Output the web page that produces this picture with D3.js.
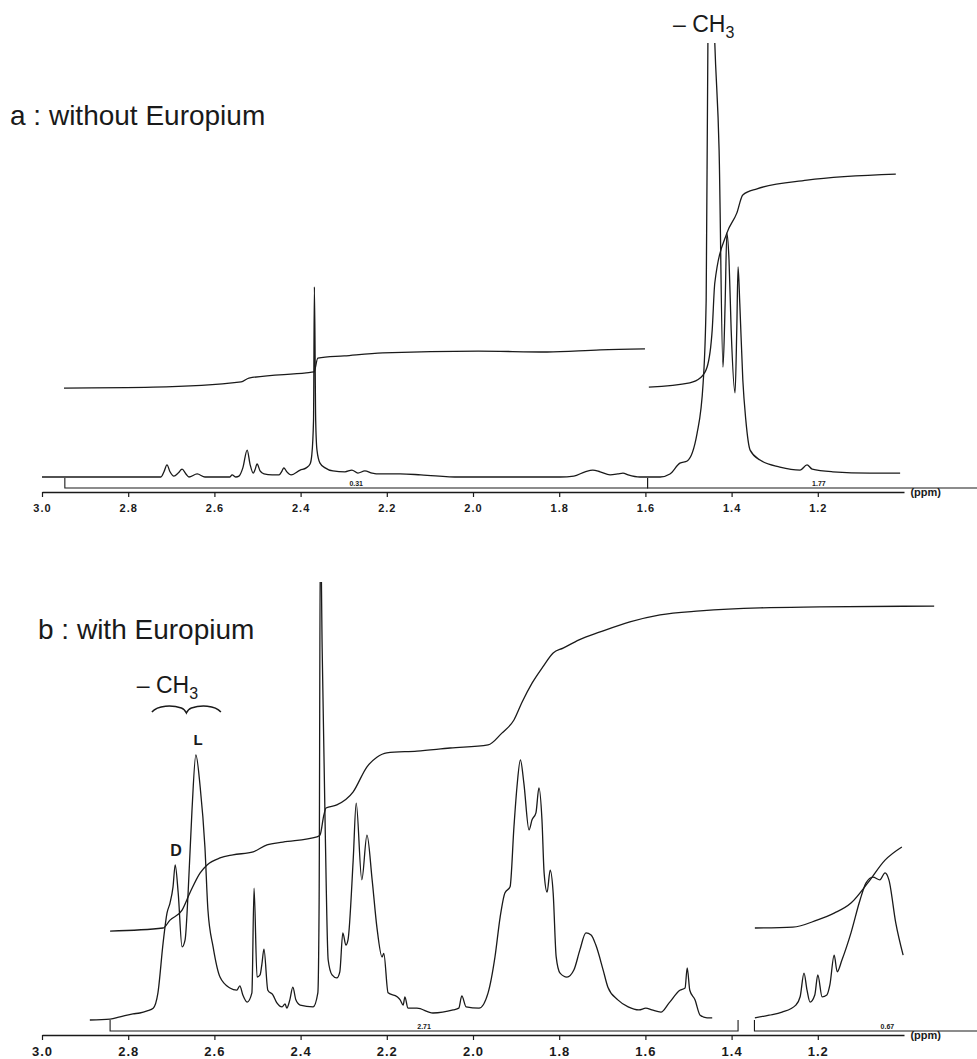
<!DOCTYPE html>
<html>
<head>
<meta charset="utf-8">
<script src="https://cdn.jsdelivr.net/npm/d3@7"></script>
<style>
  body { margin: 0; background: #fff; }
  text { font-family: "Liberation Sans", Arial, sans-serif; fill: #1a1a1a; }
</style>
</head>
<body>
<div id="chart"></div>
<script>
const width = 977;
const height = 1059;

// ppm axis ticks
const ppmTicks = [3.0, 2.8, 2.6, 2.4, 2.2, 2.0, 1.8, 1.6, 1.4, 1.2];

// a : without Europium  [ppm, relative intensity]
const spectrumA = [[3.00,0],[2.819,0],[2.724,0],[2.717,1.2],[2.710,2.8],[2.703,1.2],[2.694,0.2],[2.684,0.9],[2.675,1.8],[2.666,0.7],[2.659,0],[2.640,0.7],[2.622,0],[2.564,0],[2.559,0.5],[2.550,0],[2.543,0.2],[2.534,2.1],[2.524,6.2],[2.517,2.8],[2.510,0.9],[2.506,1.6],[2.501,3.0],[2.494,1.4],[2.485,0.7],[2.466,0.5],[2.450,0.5],[2.443,1.4],[2.439,2.1],[2.432,1.2],[2.422,0.5],[2.401,1.6],[2.387,2.1],[2.378,3.0],[2.374,5.1],[2.370,13.1],[2.368,43.8],[2.365,13.1],[2.362,6.2],[2.355,3.2],[2.343,2.1],[2.325,1.4],[2.297,1.2],[2.281,1.6],[2.267,0.9],[2.251,1.4],[2.234,0.9],[2.216,0.7],[2.169,0.7],[2.121,0.5],[2.032,0],[1.937,0],[1.798,0],[1.766,0.2],[1.740,1.2],[1.722,1.6],[1.705,1.2],[1.682,0.5],[1.664,0.7],[1.652,0.9],[1.640,0.5],[1.613,0],[1.566,0],[1.543,0.7],[1.520,3.2],[1.503,3.7],[1.480,10.1],[1.466,21.7],[1.459,40.8],[1.455,100],[1.447,130],[1.439,100],[1.429,75.3],[1.420,25.3],[1.415,40],[1.411,56.2],[1.406,50.0],[1.401,33.9],[1.392,19.4],[1.388,33.9],[1.385,48.4],[1.381,40],[1.374,22.4],[1.367,13.1],[1.357,6.2],[1.334,3.9],[1.288,2.3],[1.241,1.6],[1.225,2.8],[1.213,1.8],[1.165,1.2],[1.079,0.9],[1.009,0.9]];
const integralA1 = [[2.949,20.5],[2.742,20.7],[2.538,21.9],[2.520,22.8],[2.387,24.0],[2.369,24.2],[2.360,27.4],[2.299,27.9],[2.209,28.6],[1.988,29.0],[1.828,28.8],[1.705,29.3],[1.601,29.5]];
const integralA2 = [[1.592,20.7],[1.497,21.7],[1.473,22.8],[1.457,25.3],[1.445,33.9],[1.439,44.7],[1.411,56.2],[1.388,60.8],[1.374,65.0],[1.341,66.4],[1.225,68.4],[1.019,69.8]];
const regionsA = [{ from: 2.947, to: 1.595, label: '0.31' }, { from: 1.595, to: 0.80, label: '1.77' }];

// b : with Europium
const spectrumB1 = [[2.889,0],[2.842,0.2],[2.819,0.7],[2.789,1.4],[2.773,1.6],[2.756,2.1],[2.742,2.7],[2.731,6.2],[2.719,17.6],[2.710,24.4],[2.703,26.7],[2.696,30.4],[2.691,35.4],[2.684,29.0],[2.675,16.7],[2.668,18.3],[2.661,29.0],[2.652,47.9],[2.643,60.5],[2.633,53.2],[2.622,39.5],[2.615,25.1],[2.603,16.7],[2.587,9.8],[2.564,7.3],[2.548,6.8],[2.541,7.8],[2.534,5.7],[2.524,4.1],[2.513,6.2],[2.508,30.1],[2.501,9.8],[2.494,10.3],[2.490,12.6],[2.485,16.2],[2.476,6.8],[2.464,5.7],[2.455,3.9],[2.443,3.0],[2.436,3.7],[2.432,2.7],[2.425,4.6],[2.418,7.5],[2.411,4.6],[2.401,3.4],[2.371,3.0],[2.360,6.2],[2.357,27.4],[2.354,115],[2.350,85],[2.343,44.1],[2.336,13.7],[2.327,10.3],[2.316,9.6],[2.309,11.0],[2.302,19.9],[2.295,17.1],[2.290,18.3],[2.278,36.5],[2.271,49.5],[2.258,32.0],[2.246,42.2],[2.234,32.0],[2.223,21.2],[2.211,14.4],[2.207,15.2],[2.197,6.2],[2.176,5.3],[2.169,4.6],[2.162,3.4],[2.158,5.3],[2.151,2.7],[2.130,2.7],[2.093,1.6],[2.046,2.3],[2.033,2.7],[2.026,5.5],[2.016,3.0],[1.986,2.7],[1.965,6.2],[1.949,14.4],[1.937,23.5],[1.926,29.0],[1.914,30.4],[1.905,44.1],[1.898,53.2],[1.890,59.4],[1.882,54.1],[1.870,43.4],[1.863,45.7],[1.854,47.3],[1.847,53.0],[1.840,45.7],[1.835,33.6],[1.828,29.2],[1.821,34.2],[1.814,29.0],[1.807,14.4],[1.798,10.7],[1.782,9.8],[1.766,11.4],[1.752,16.0],[1.738,19.9],[1.726,19.4],[1.715,17.1],[1.698,11.4],[1.687,7.5],[1.664,4.6],[1.640,3.0],[1.615,2.3],[1.599,2.7],[1.585,2.3],[1.564,1.8],[1.545,3.9],[1.520,6.8],[1.508,7.3],[1.503,11.9],[1.497,6.8],[1.485,4.6],[1.473,1.1],[1.457,0.5],[1.445,0.5]];
const spectrumB2 = [[1.346,0.5],[1.313,1.1],[1.283,1.8],[1.251,3.4],[1.241,5.3],[1.232,10.7],[1.225,6.8],[1.218,4.1],[1.207,5.7],[1.200,10.3],[1.190,5.3],[1.179,5.7],[1.172,8.0],[1.162,14.8],[1.155,11.0],[1.144,13.7],[1.123,19.9],[1.102,27.4],[1.088,31.3],[1.072,32.6],[1.056,32.0],[1.044,33.6],[1.035,32.0],[1.019,22.1],[1.002,14.8]];
const integralB1 = [[2.842,20.3],[2.719,21.0],[2.703,22.8],[2.675,25.1],[2.657,29.0],[2.633,33.6],[2.617,35.4],[2.587,37.0],[2.557,37.7],[2.510,38.4],[2.478,40.0],[2.441,40.6],[2.362,41.8],[2.355,42.2],[2.346,46.8],[2.341,48.4],[2.316,49.1],[2.278,52.1],[2.246,57.8],[2.223,60.0],[2.200,61.0],[2.130,61.4],[2.053,62.1],[1.965,62.8],[1.933,65.5],[1.905,68.5],[1.886,72.6],[1.863,76.9],[1.838,80.6],[1.814,83.8],[1.791,84.9],[1.754,86.8],[1.705,88.6],[1.636,90.9],[1.566,92.5],[1.473,93.4],[1.334,94.1],[1.195,94.3],[0.93,94.5]];
const integralB2 = [[1.346,21.0],[1.258,21.2],[1.202,22.8],[1.162,24.4],[1.123,26.7],[1.084,31.3],[1.044,36.5],[1.005,39.5]];
const regionsB = [{ from: 2.842, to: 1.385, label: '2.71' }, { from: 1.347, to: 0.73, label: '0.67' }];

const svg = d3.select('#chart')
    .append('svg')
    .attr('width', width)
    .attr('height', height);

const x = d3.scaleLinear().domain([3.0, 1.0]).range([42, 904]);
const yA = d3.scaleLinear().domain([0, 100]).range([477, 43]);
const yB = d3.scaleLinear().domain([0, 100]).range([1020, 582]);

const ink = '#1a1a1a';

// clip the truncated peaks at the top of each panel
const defs = svg.append('defs');
defs.append('clipPath').attr('id', 'clipA')
    .append('rect').attr('x', 0).attr('y', yA(100)).attr('width', width).attr('height', 500);
defs.append('clipPath').attr('id', 'clipB')
    .append('rect').attr('x', 0).attr('y', yB(100)).attr('width', width).attr('height', 500);

function drawPanel(y, clipId, traces, regions, axisY, bracketTop, tickFont) {
    const line = d3.line()
        .x(d => x(d[0]))
        .y(d => y(d[1]))
        .curve(d3.curveMonotoneX);

    const g = svg.append('g').attr('clip-path', `url(#${clipId})`);
    g.selectAll('path')
        .data(traces)
        .join('path')
        .attr('d', d => line(d))
        .attr('fill', 'none')
        .attr('stroke', ink)
        .attr('stroke-width', 1.3)
        .attr('stroke-linejoin', 'round');

    // integration brackets
    const bracketLow = axisY - 4;
    svg.selectAll(null)
        .data(regions)
        .join('path')
        .attr('d', r => `M${x(r.from)},${bracketTop}V${bracketLow}H${x(r.to)}V${bracketTop}`)
        .attr('fill', 'none')
        .attr('stroke', ink)
        .attr('stroke-width', 1.1);

    svg.selectAll(null)
        .data(regions)
        .join('text')
        .attr('x', r => x((r.from + r.to) / 2))
        .attr('y', bracketLow - 2)
        .attr('text-anchor', 'middle')
        .style('font-size', '7px')
        .style('font-weight', 'bold')
        .text(r => r.label);

    // ppm axis
    const axis = d3.axisBottom(x)
        .tickValues(ppmTicks)
        .tickFormat(d3.format('.1f'))
        .tickSize(5)
        .tickSizeOuter(0)
        .tickPadding(7);

    const ax = svg.append('g')
        .attr('transform', `translate(0,${axisY})`)
        .call(axis);
    ax.select('.domain').attr('stroke', ink).attr('stroke-width', 1.6);
    ax.selectAll('.tick line').attr('stroke', ink).attr('stroke-width', 1.2);
    ax.selectAll('.tick text')
        .style('font-family', '"Liberation Sans Narrow", "Liberation Sans", Arial, sans-serif')
        .style('font-size', tickFont)
        .style('font-weight', 'bold')
        .style('letter-spacing', '1px')
        .attr('fill', ink);

    svg.append('text')
        .attr('x', x(0.985))
        .attr('y', axisY + 4)
        .style('font-size', '11px')
        .style('font-weight', 'bold')
        .text('(ppm)');
}

drawPanel(yA, 'clipA', [spectrumA, integralA1, integralA2], regionsA, 492, 478, '11px');
drawPanel(yB, 'clipB', [spectrumB1, spectrumB2, integralB1, integralB2], regionsB, 1035, 1020, '13px');

// panel titles
svg.append('text')
    .attr('x', 10).attr('y', 125)
    .style('font-size', '28px')
    .text('a : without Europium');

svg.append('text')
    .attr('x', 38).attr('y', 639)
    .style('font-size', '28px')
    .text('b : with Europium');

// methyl annotations
function methylLabel(ppm, baseline) {
    const t = svg.append('text')
        .attr('x', x(ppm))
        .attr('y', baseline)
        .style('font-size', '23px');
    t.append('tspan').text('\u2013 CH');
    t.append('tspan').attr('dy', 6).style('font-size', '16px').text('3');
}
methylLabel(1.536, 32);
methylLabel(2.78, 693);

// under-brace below the b methyl label
const braceL = x(2.745), braceR = x(2.585), braceM = (braceL + braceR) / 2;
svg.append('path')
    .attr('d', `M${braceL},712 C${braceL + 6},705 ${braceM - 14},705 ${braceM - 5},708 C${braceM - 2},709 ${braceM - 1},711 ${braceM},713 C${braceM + 1},711 ${braceM + 2},709 ${braceM + 5},708 C${braceM + 14},705 ${braceR - 6},705 ${braceR},712`)
    .attr('fill', 'none')
    .attr('stroke', ink)
    .attr('stroke-width', 1.5);

// enantiomer peak labels
svg.append('text')
    .attr('x', x(2.638)).attr('y', 745)
    .attr('text-anchor', 'middle')
    .style('font-size', '15px').style('font-weight', 'bold')
    .text('L');
svg.append('text')
    .attr('x', x(2.689)).attr('y', 856)
    .attr('text-anchor', 'middle')
    .style('font-size', '16px').style('font-weight', 'bold')
    .text('D');
</script>
</body>
</html>
